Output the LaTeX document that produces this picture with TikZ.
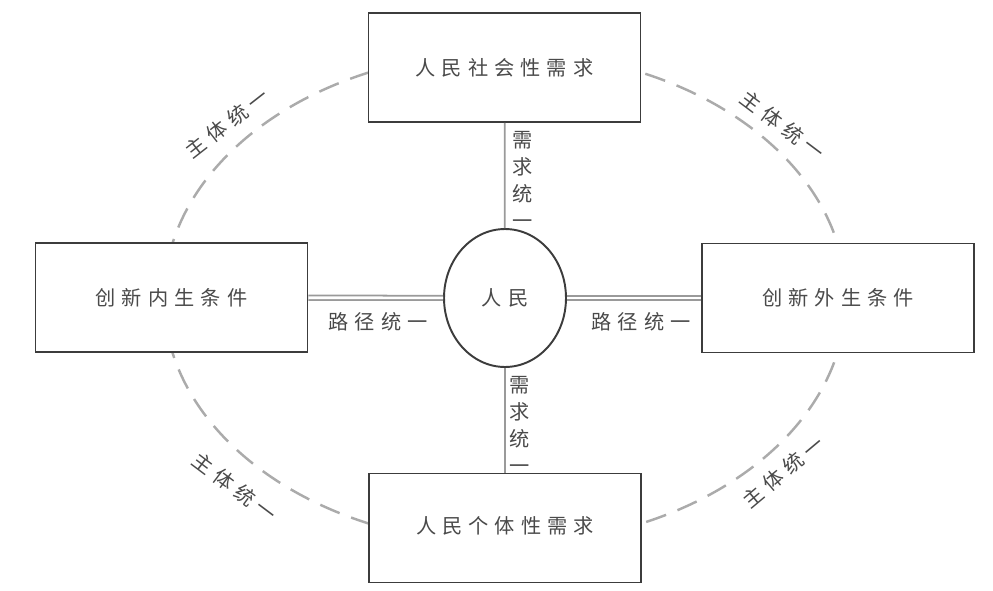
\documentclass[tikz,border=0pt]{standalone}
\usepackage{fontspec}
\newfontfamily\cjk[LetterSpace=30]{Noto Sans CJK SC}
\newfontfamily\cjkcol{Noto Sans CJK SC}
\usetikzlibrary{shapes.geometric}
\definecolor{boxgray}{HTML}{3C3C3C}
\definecolor{linegray}{HTML}{9A9A9A}
\definecolor{dashgray}{HTML}{ABABAB}
\definecolor{textgray}{HTML}{4A4A4A}

\begin{document}
\begin{tikzpicture}[x=0.02cm,y=-0.02cm,
    box/.style={draw=boxgray,line width=1.1pt,fill=white,minimum width=5.44cm,minimum height=2.18cm,
      font=\cjk\fontsize{11.5}{13}\selectfont,text=textgray},
    lbl/.style={font=\cjk\fontsize{11.5}{13}\selectfont,text=textgray,inner sep=0pt},
    vlbl/.style={font=\cjkcol\fontsize{11.5}{15.5}\selectfont,text=textgray,align=center,inner sep=0pt},
    pathlink/.style={draw=linegray,double=white,double distance=1.5pt,line width=1pt},
    needlink/.style={draw=linegray,line width=1pt},
    ring/.style={draw=dashgray,line width=1.4pt,dash pattern=on 12pt off 7pt}]
  \useasboundingbox (0,0) rectangle (993,591);
  \coordinate (mid) at (505,298);
  % dashed ring behind the boxes
  \draw[ring] (mid) ellipse (6.82cm and 4.92cm);
  \node[box] at (504.5,67.5) (social) {人民社会性需求};
  \node[box] at (171.5,297.5) (inner) {创新内生条件};
  \node[box] at (838,298)    (outer) {创新外生条件};
  \node[box] at (505,528)    (single) {\raisebox{3pt}{人民个体性需求}};
  \node[ellipse,draw=boxgray,line width=1.1pt,fill=white,minimum width=2.44cm,minimum height=2.76cm,
    font=\cjk\fontsize{11.5}{13}\selectfont,text=textgray] at (mid) (people) {人民};
  \draw[pathlink] (inner) -- (people);
  \draw[pathlink] (people) -- (outer);
  \draw[needlink] (social) -- (people);
  \draw[needlink] (people) -- (single);
  \node[lbl] at (378,322) (pathL) {路径统一};
  \node[lbl] at (641,322) (pathR) {路径统一};
  \node[vlbl] at (523,180) (needT) {需\\求\\统\\一};
  \node[vlbl] at (520,425) (needB) {需\\求\\统\\一};
  \node[lbl,rotate=38]  at (227,123) (bodyTL) {主体统一};
  \node[lbl,rotate=-37] at (783,125) (bodyTR) {主体统一};
  \node[lbl,rotate=-37] at (235,487) (bodyBL) {主体统一};
  \node[lbl,rotate=40]  at (783,472) (bodyBR) {主体统一};
\end{tikzpicture}
\end{document}
